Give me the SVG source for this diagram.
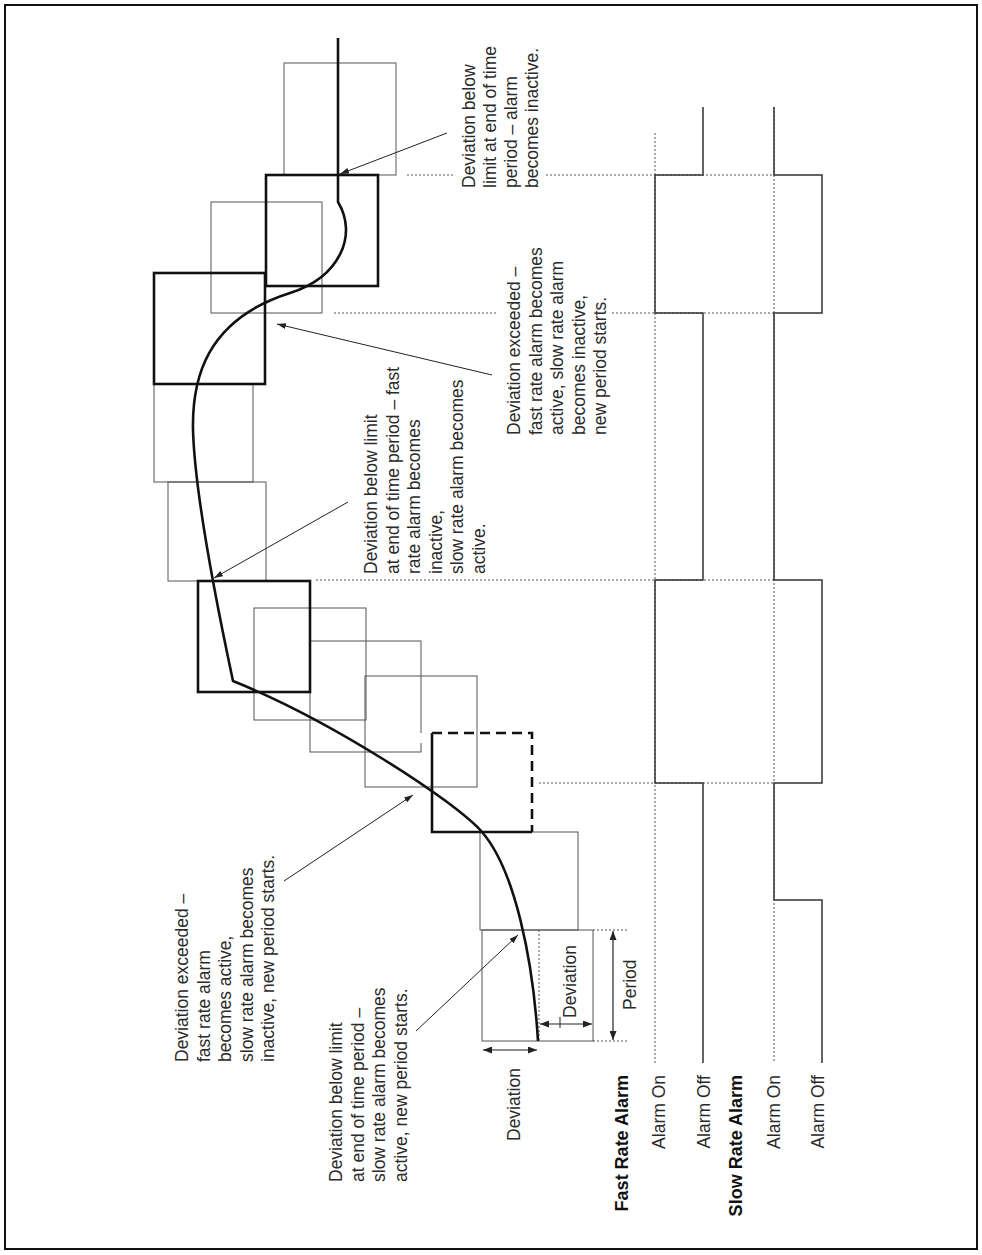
<svg xmlns="http://www.w3.org/2000/svg" width="982" height="1255" viewBox="0 0 982 1255">
<style>
  .thin{fill:none;stroke:#555;stroke-width:1}
  .thick{fill:none;stroke:#111;stroke-width:2.6}
  .dot{fill:none;stroke:#555;stroke-width:1;stroke-dasharray:2 2}
  .sig{fill:none;stroke:#333;stroke-width:1.5}
  .lead{fill:none;stroke:#222;stroke-width:1;marker-end:url(#ah)}
  .dim{fill:none;stroke:#222;stroke-width:1.2;marker-start:url(#dh);marker-end:url(#dh)}
  .curve{fill:none;stroke:#111;stroke-width:2.6;stroke-linejoin:round}
  .gap{stroke:#fff;stroke-width:3;fill:none}
  text{font-family:"Liberation Sans",Arial,sans-serif;font-size:17.5px;fill:#2a2a2a}
  .b{font-weight:bold;fill:#111;font-size:18px}
</style>
<defs>
  <marker id="ah" markerUnits="userSpaceOnUse" markerWidth="9" markerHeight="6" refX="9" refY="3" orient="auto">
    <path d="M0,0 L9,3 L0,6 z" fill="#222"/>
  </marker>
  <marker id="dh" markerUnits="userSpaceOnUse" markerWidth="9" markerHeight="7" refX="9" refY="3.5" orient="auto-start-reverse">
    <path d="M0,0 L9,3.5 L0,7 z" fill="#222"/>
  </marker>
</defs>
<rect x="5" y="5" width="972" height="1244" fill="#fff" stroke="#111" stroke-width="2"/>

<g id="period-boxes">
  <rect id="boxA" class="thin" x="284" y="63" width="112" height="112"/>
  <rect id="boxC" class="thin" x="211" y="202" width="111" height="111"/>
  <rect id="boxE" class="thin" x="154" y="384" width="99" height="98"/>
  <rect id="boxF" class="thin" x="168" y="482" width="98" height="99"/>
  <rect id="boxH" class="thin" x="254" y="608" width="112" height="112"/>
  <rect id="boxI" class="thin" x="310" y="641" width="111" height="111"/>
  <rect id="boxJ" class="thin" x="365" y="676" width="112" height="111"/>
  <rect id="boxL" class="thin" x="480" y="832" width="98" height="98"/>
  <rect id="boxM" class="thin" x="482" y="930" width="111" height="111"/>
  <rect id="boxB" class="thick" x="266" y="175" width="112" height="111"/>
  <rect id="boxD" class="thick" x="154" y="273" width="111" height="111"/>
  <rect id="boxG" class="thick" x="198" y="581" width="112" height="111"/>
  <line class="gap" x1="421" y1="733" x2="421" y2="743"/>
  <g id="boxK">
    <path class="thick" d="M432,733 L432,832 L532,832"/>
    <path class="thick" d="M432,733 L532,733 L532,832" stroke-dasharray="10 6"/>
  </g>
</g>

<g id="guides">
  <path class="dot" d="M407,175 H453 M546,175 H775 M334,313 H498 M612,313 H775 M316,580 H775 M539,783 H775 M593,930 H627 M593,1041 H627 M539,930 V1041 M655,133 V1063 M774,107 V1063"/>
</g>

<g id="deviation-curve">
  <path class="curve" d="M338,38 L338,202 C358,235 340,277 290,293 C205,320 192,380 193,430 C195,500 220,620 233,681 C330,720 455,801 482,832 C515,870 533,960 538,1041"/>
  <line class="gap" x1="416" y1="776" x2="423" y2="781"/>
</g>

<g id="fast-signal">
  <path class="sig" d="M703,107 V175 H655 V313 H703 V580 H655 V783 H703 V1063"/>
</g>
<g id="slow-signal">
  <path class="sig" d="M774,107 V175 H822 V313 H774 V580 H822 V783 H774 V900 H822 V1063"/>
</g>

<g id="connectors">
  <line class="lead" x1="447" y1="133" x2="340" y2="174"/>
  <line class="lead" x1="492" y1="375" x2="277" y2="324"/>
  <line class="lead" x1="348" y1="502" x2="214" y2="578"/>
  <line class="lead" x1="284" y1="881" x2="413" y2="795"/>
  <line class="lead" x1="416" y1="1031" x2="518" y2="935"/>
  <line class="dim" x1="483" y1="1050" x2="537" y2="1050"/>
  <line class="dim" x1="540" y1="1024" x2="592" y2="1024"/>
  <line stroke="#222" stroke-width="1" x1="560" y1="1017" x2="560" y2="1028"/>
  <line class="dim" x1="613" y1="931" x2="613" y2="1040"/>
</g>

<g id="note-top">
  <text transform="translate(475,188) rotate(-90)"><tspan x="0" y="0">Deviation below</tspan><tspan x="0" dy="21">limit at end of time</tspan><tspan x="0" dy="21">period – alarm</tspan><tspan x="0" dy="21">becomes inactive.</tspan></text>
</g>
<g id="note-right">
  <text transform="translate(520,435) rotate(-90)"><tspan x="0" y="0">Deviation exceeded –</tspan><tspan x="0" dy="21.5">fast rate alarm becomes</tspan><tspan x="0" dy="21.5">active, slow rate alarm</tspan><tspan x="0" dy="21.5">becomes inactive,</tspan><tspan x="0" dy="21.5">new period starts.</tspan></text>
</g>
<g id="note-middle">
  <text transform="translate(377,574) rotate(-90)"><tspan x="0" y="0">Deviation below limit</tspan><tspan x="0" dy="21.6">at end of time period – fast</tspan><tspan x="0" dy="21.6">rate alarm becomes</tspan><tspan x="0" dy="21.6">inactive,</tspan><tspan x="0" dy="21.6">slow rate alarm becomes</tspan><tspan x="0" dy="21.6">active.</tspan></text>
</g>
<g id="note-bottom1">
  <text transform="translate(188,1062) rotate(-90)"><tspan x="0" y="0">Deviation exceeded –</tspan><tspan x="0" dy="21.5">fast rate alarm</tspan><tspan x="0" dy="21.5">becomes active,</tspan><tspan x="0" dy="21.5">slow rate alarm becomes</tspan><tspan x="0" dy="21.5">inactive, new period starts.</tspan></text>
</g>
<g id="note-bottom2">
  <text transform="translate(342,1182) rotate(-90)"><tspan x="0" y="0">Deviation below limit</tspan><tspan x="0" dy="21.5">at end of time period –</tspan><tspan x="0" dy="21.5">slow rate alarm becomes</tspan><tspan x="0" dy="21.5">active, new period starts.</tspan></text>
</g>
<g id="dim-labels">
  <text transform="translate(520,1141) rotate(-90)">Deviation</text>
  <text transform="translate(576,1018) rotate(-90)">Deviation</text>
  <text transform="translate(636,1010) rotate(-90)">Period</text>
</g>
<g id="legend">
  <text class="b" text-anchor="end" transform="translate(628,1075) rotate(-90)">Fast Rate Alarm</text>
  <text text-anchor="end" transform="translate(665,1075) rotate(-90)">Alarm On</text>
  <text text-anchor="end" transform="translate(710,1075) rotate(-90)">Alarm Off</text>
  <text class="b" text-anchor="end" transform="translate(742,1075) rotate(-90)">Slow Rate Alarm</text>
  <text text-anchor="end" transform="translate(780,1075) rotate(-90)">Alarm On</text>
  <text text-anchor="end" transform="translate(824,1075) rotate(-90)">Alarm Off</text>
</g>
</svg>
